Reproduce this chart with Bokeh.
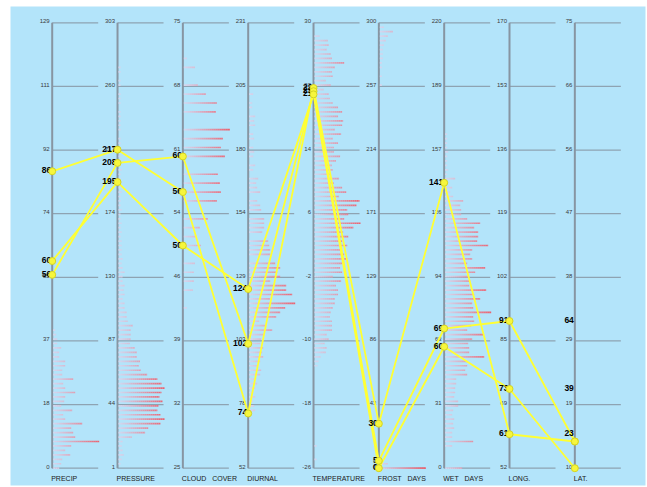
from bokeh.plotting import figure
from bokeh.models import Range1d
from bokeh.embed import file_html
from bokeh.resources import INLINE
from bokeh.core.properties import value

# ---- axes -------------------------------------------------------------
NB = "\u00a0"
axis_names = ["PRECIP", "PRESSURE", "CLOUD" + NB * 3 + "COVER", "DIURNAL", "TEMPERATURE",
              "FROST" + NB * 3 + "DAYS", "WET" + NB * 3 + "DAYS", "LONG.", "LAT."]
axis_lo = [0, 1, 25, 52, -26, 0, 0, 52, 10]
axis_hi = [129, 303, 75, 231, 30, 300, 220, 170, 75]
tick_labels = [
    ["0", "18", "37", "55", "74", "92", "111", "129"],
    ["1", "44", "87", "130", "174", "217", "260", "303"],
    ["25", "32", "39", "46", "54", "61", "68", "75"],
    ["52", "78", "103", "129", "154", "180", "205", "231"],
    ["-26", "-18", "-10", "-2", "6", "14", "22", "30"],
    ["0", "43", "86", "129", "171", "214", "257", "300"],
    ["0", "31", "63", "94", "126", "157", "189", "220"],
    ["52", "69", "85", "102", "119", "136", "153", "170"],
    ["10", "19", "29", "38", "47", "56", "66", "75"],
]

# ---- selected stations (one polyline each) ----------------------------
precip = [86, 56, 60]
pressure = [217, 208, 195]
cloud = [56, 60, 50]
diurnal = [74, 102, 124]
temperature = [21.8, 21.4, 21.0]
frost = [30, 5, 0]
wet = [141, 69, 60]
longitude = [61, 91, 73]
latitude = [13.9, 13.9, 10]
lat_text = ["23", "64", "39"]

# ---- distribution of every variable, 100 bins from low to high --------
precip_hist = [6, 8, 9, 17, 12, 18, 46, 22, 20, 18,
               29, 12, 10, 19, 8, 11, 12, 22, 12, 10,
               20, 9, 9, 12, 12, 6, 6, 8, 4, 4,
               3, 2]
pressure_hist = [0, 2, 3, 5, 4, 3, 4, 13, 26, 29,
                 41, 45, 41, 38, 39, 43, 40, 42, 45, 42,
                 38, 28, 22, 20, 21, 18, 18, 16, 11, 12,
                 12, 12, 14, 9, 8, 8, 6, 6, 4, 6,
                 5, 6, 4, 4, 6, 4, 3, 4, 3, 3,
                 3, 3, 2, 3, 2, 3, 2, 2, 3, 2,
                 2, 2, 3, 2, 2, 2, 2, 3, 2, 2,
                 2, 0, 2, 2, 2, 0, 2, 2, 2, 2,
                 2, 0, 2, 2, 2, 0, 2, 2, 0, 2,
                 2]
cloud_hist = [0] * 36 + [3, 0, 0, 0, 9, 0, 10, 0, 10, 0,
                         11, 0, 0, 0, 17, 0, 13, 0, 16, 0,
                         24, 0, 0, 0, 33, 0, 37, 0, 36, 0,
                         34, 0, 0, 0, 41, 0, 37, 0, 39, 0,
                         46, 0, 0, 0, 32, 0, 33, 0, 22, 0,
                         14, 0, 0, 0, 11, 0, 3]
diurnal_hist = [0, 0, 0, 0, 0, 0, 0, 0, 0, 0,
                0, 2, 2, 6, 5, 4, 6, 4, 6, 8,
                7, 11, 12, 8, 11, 14, 13, 14, 11, 12,
                15, 23, 17, 10, 27, 31, 36, 46, 21, 43,
                37, 37, 21, 31, 28, 31, 26, 0, 21, 21,
                20, 19, 0, 13, 15, 15, 15, 0, 12, 11,
                8, 0, 11, 8, 7, 9, 0, 4, 6, 0,
                4, 5, 4, 0, 5, 4, 0, 6, 5, 6,
                0, 3, 3, 0, 4]
temperature_hist = [0, 0, 2, 0, 0, 2, 0, 0, 0, 0,
                    0, 0, 0, 0, 0, 0, 0, 0, 0, 0,
                    0, 0, 0,
                    3, 4, 6, 11, 12, 10, 14, 12, 17, 17,
                    17, 15, 16, 18, 20, 20, 23, 23, 21, 26,
                    18, 27, 25, 27, 32, 29, 25, 32, 27, 33,
                    28, 38, 45, 29, 33, 32, 41, 44, 24, 31,
                    27, 19, 24, 15, 18, 17, 21, 25, 19, 19,
                    23, 18, 26, 20, 27, 28, 23, 27, 23, 18,
                    15, 14, 9, 16, 11, 18, 17, 20, 29, 17,
                    16, 12, 14, 13, 5]
frost_hist = [46, 8] + [0] * 84 + [2, 0, 2, 0, 2, 2, 3, 3, 3, 4, 6, 8, 13, 4]
wet_hist = [17, 0, 0, 0, 0, 7, 28, 7, 7, 9,
            8, 9, 7, 8, 13, 13, 9, 10, 10, 11,
            11, 22, 20, 22, 22, 39, 24, 24, 23, 27,
            38, 22, 26, 29, 28, 46, 28, 27, 35, 29,
            41, 24, 25, 23, 30, 40, 22, 27, 25, 27,
            43, 32, 33, 33, 29, 35, 22, 16, 16, 15,
            18, 8, 5, 7, 3, 10, 2, 3, 2, 2,
            2, 3, 2, 2, 2, 2]
hists = [precip_hist, pressure_hist, cloud_hist, diurnal_hist, temperature_hist,
         frost_hist, wet_hist, [], []]
N_BINS = 100

records = list(zip(precip, pressure, cloud, diurnal, temperature,
                   frost, wet, longitude, latitude))

# ---- layout (screen pixels across, axis fraction up) -------------------
AX_X0, AX_DX = 51.7, 65.33
BAR_SPAN = 46.0
PIECE = 2.0
BG = "#b3e4fa"
ax_x = [AX_X0 + i * AX_DX for i in range(len(axis_names))]


def frac(v, a):
    return (v - axis_lo[a]) / (axis_hi[a] - axis_lo[a])


p = figure(width=647, height=487, output_backend="svg", toolbar_location=None,
           x_range=Range1d(10, 645), y_range=Range1d(-0.0388, 1.0366),
           x_axis_type=None, y_axis_type=None,
           min_border_left=10, min_border_right=2, min_border_top=6, min_border_bottom=2,
           background_fill_color=BG, border_fill_color="white", outline_line_color=None)
p.grid.visible = False

# grid stubs and axis lines
gx0, gx1, gy = [], [], []
tx, ty, tt = [], [], []
for a, x in enumerate(ax_x):
    for k, lab in enumerate(tick_labels[a]):
        gx0.append(x)
        gx1.append(x + BAR_SPAN)
        gy.append(k / 7)
        tx.append(x - 2.5)
        ty.append(k / 7)
        tt.append(lab)
p.segment(x0=gx0, y0=gy, x1=gx1, y1=gy, line_color="#8ea3b2", line_width=1.2)
p.segment(x0=ax_x, y0=[0] * len(ax_x), x1=ax_x, y1=[1] * len(ax_x),
          line_color="#8795a2", line_width=2)

# histogram bars, shaded from pale lavender at the axis to red at full length
c0 = (212, 216, 240)
c1 = (236, 96, 110)
bx0, bx1, by, bc = [], [], [], []
for a, counts in enumerate(hists):
    if not counts:
        continue
    top = max(counts)
    for i, c in enumerate(counts):
        if c <= 0:
            continue
        length = c / top * BAR_SPAN
        k = 0
        while k * PIECE < length:
            s0 = k * PIECE
            s1 = min((k + 1) * PIECE, length)
            t = min(1.0, (s0 + s1) / 2 / BAR_SPAN)
            rgb = tuple(int(round(c0[j] + (c1[j] - c0[j]) * t)) for j in range(3))
            bx0.append(ax_x[a] + 1 + s0)
            bx1.append(ax_x[a] + 1 + s1)
            by.append(i / N_BINS)
            bc.append("#%02x%02x%02x" % rgb)
            k += 1
p.segment(x0=bx0, y0=by, x1=bx1, y1=by, line_color=bc, line_width=1.7, line_cap="butt")

# tick labels
p.text(x=tx, y=ty, text=tt, text_align="right", text_baseline="middle",
       text_font=value("Liberation Sans"), text_font_size="6px", text_color="#3a3a3a",
       y_offset=-1.5)

# axis names
p.text(x=[x - 1 for x in ax_x], y=[0] * len(ax_x), text=axis_names,
       text_align="left", text_baseline="middle", y_offset=10,
       text_font=value("Liberation Sans"), text_font_size="7px", text_color="#202020")

# station polylines
xs = [ax_x[:] for _ in records]
ys = [[frac(v, a) for a, v in enumerate(r)] for r in records]
p.multi_line(xs=xs, ys=ys, line_color="#ffff33", line_width=1.8)

# value labels (latitude text sits at the height of the longitude point)
lx, ly, lt = [], [], []
for r in range(len(records)):
    for a in range(len(axis_names)):
        lx.append(ax_x[a] - 1)
        if a == len(axis_names) - 1:
            ly.append(ys[r][a - 1])
            lt.append(lat_text[r])
        else:
            ly.append(ys[r][a])
            lt.append(str(int(round(records[r][a]))))
p.text(x=lx, y=ly, text=lt, text_align="right", text_baseline="middle", y_offset=-1,
       text_font=value("Liberation Sans"), text_font_size="8.5px",
       text_font_style="bold", text_color="black")

px = [x for row in xs for x in row]
py = [y for row in ys for y in row]
p.scatter(x=px, y=py, size=7, fill_color="#f6f63c", line_color="#d4d424", line_width=1)

open("out.html", "w").write(file_html(p, INLINE))
